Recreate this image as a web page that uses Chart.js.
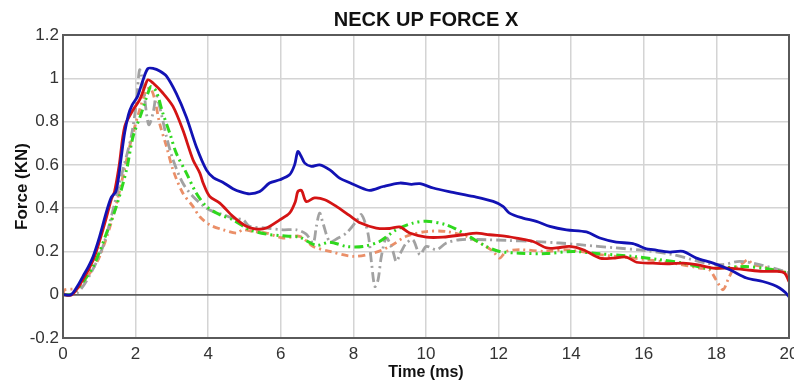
<!DOCTYPE html>
<html>
<head>
<meta charset="utf-8">
<title>Neck Up Force X</title>
<script src="https://cdn.jsdelivr.net/npm/chart.js@4/dist/chart.umd.min.js"></script>
<style>
  html, body { margin: 0; padding: 0; background: #ffffff; }
  #wrap { width: 794px; height: 382px; position: relative; }
</style>
</head>
<body>
<div id="wrap"><canvas id="chart" width="794" height="382"></canvas></div>
<script>
// Time samples (ms) and force (kN) for each test curve
const blueTime = [0, 0.22, 0.4, 0.55, 0.7, 0.83, 1.01, 1.2, 1.33, 1.45, 1.52, 1.6, 1.7, 1.8, 1.9, 2.05, 2.2, 2.34, 2.5, 2.65, 2.85, 3.12, 3.4, 3.67, 3.95, 4.15, 4.4, 4.68, 4.9, 5.14, 5.42, 5.69, 5.97, 6.24, 6.38, 6.47, 6.56, 6.66, 6.84, 7.07, 7.35, 7.62, 7.9, 8.13, 8.45, 8.82, 9.28, 9.6, 9.83, 10.2, 10.74, 11.3, 11.85, 12.12, 12.3, 12.67, 13.04, 13.41, 13.87, 14.42, 14.79, 15.24, 15.7, 16.07, 16.25, 16.71, 17.08, 17.45, 17.91, 18.37, 18.83, 19.28, 19.56, 19.74, 19.9, 20];
const blueForce = [0, 0, 0.04, 0.085, 0.13, 0.177, 0.27, 0.385, 0.45, 0.475, 0.53, 0.63, 0.75, 0.83, 0.875, 0.915, 0.99, 1.045, 1.045, 1.035, 1.01, 0.93, 0.82, 0.685, 0.577, 0.54, 0.52, 0.49, 0.475, 0.466, 0.477, 0.516, 0.531, 0.554, 0.6, 0.662, 0.64, 0.608, 0.593, 0.6, 0.577, 0.539, 0.517, 0.5, 0.482, 0.5, 0.516, 0.51, 0.513, 0.493, 0.473, 0.454, 0.431, 0.408, 0.377, 0.354, 0.339, 0.316, 0.3, 0.29, 0.262, 0.243, 0.236, 0.212, 0.208, 0.197, 0.2, 0.169, 0.146, 0.115, 0.077, 0.061, 0.046, 0.031, 0.01, -0.01];

const redTime = [0, 0.25, 0.55, 0.83, 1.01, 1.2, 1.33, 1.42, 1.55, 1.7, 1.93, 2.11, 2.25, 2.34, 2.48, 2.75, 3.03, 3.3, 3.58, 3.77, 3.86, 4.04, 4.32, 4.68, 5.05, 5.33, 5.6, 5.97, 6.24, 6.4, 6.47, 6.57, 6.7, 6.93, 7.21, 7.53, 7.9, 8.2, 8.63, 9.0, 9.28, 9.55, 10.01, 10.47, 11.02, 11.39, 11.75, 12.21, 12.49, 12.95, 13.32, 13.59, 13.96, 14.33, 14.79, 15.15, 15.52, 15.8, 16.25, 16.71, 17.08, 17.45, 17.91, 18.37, 18.83, 19.28, 19.65, 19.88, 20];
const redForce = [0, 0, 0.07, 0.16, 0.25, 0.36, 0.44, 0.477, 0.6, 0.777, 0.854, 0.9, 0.96, 0.993, 0.978, 0.932, 0.87, 0.762, 0.624, 0.562, 0.516, 0.454, 0.423, 0.362, 0.316, 0.303, 0.308, 0.346, 0.377, 0.43, 0.477, 0.482, 0.431, 0.447, 0.439, 0.408, 0.365, 0.331, 0.308, 0.306, 0.313, 0.285, 0.266, 0.266, 0.277, 0.285, 0.277, 0.27, 0.262, 0.246, 0.216, 0.216, 0.223, 0.208, 0.169, 0.169, 0.174, 0.15, 0.146, 0.143, 0.146, 0.139, 0.123, 0.123, 0.115, 0.108, 0.108, 0.1, 0.06];

const greenTime = [0, 0.2, 0.37, 0.6, 0.83, 1.01, 1.2, 1.47, 1.75, 1.93, 2.16, 2.34, 2.43, 2.57, 2.75, 2.94, 3.12, 3.4, 3.67, 3.95, 4.32, 4.68, 5.14, 5.6, 6.06, 6.52, 6.98, 7.35, 7.81, 8.26, 8.72, 9.18, 9.64, 10.01, 10.56, 11.11, 11.66, 12.03, 12.58, 13.32, 14.05, 14.79, 15.7, 16.44, 17.08, 17.72, 18.2, 18.8, 19.4, 20];
const greenForce = [0, 0, 0.023, 0.07, 0.13, 0.2, 0.285, 0.408, 0.577, 0.731, 0.839, 0.932, 0.962, 0.939, 0.839, 0.747, 0.654, 0.562, 0.47, 0.408, 0.37, 0.346, 0.3, 0.28, 0.272, 0.265, 0.228, 0.243, 0.223, 0.223, 0.246, 0.3, 0.331, 0.339, 0.323, 0.277, 0.223, 0.2, 0.192, 0.19, 0.2, 0.189, 0.177, 0.162, 0.146, 0.123, 0.125, 0.13, 0.12, 0.1];

const grayTime = [0, 0.4, 0.8, 1.1, 1.38, 1.65, 1.88, 2.02, 2.11, 2.2, 2.31, 2.37, 2.48, 2.57, 2.66, 2.85, 3.03, 3.3, 3.58, 3.95, 4.13, 4.41, 4.68, 4.96, 5.14, 5.6, 6.06, 6.43, 6.7, 6.89, 6.98, 7.07, 7.16, 7.35, 7.58, 7.81, 8.08, 8.22, 8.4, 8.5, 8.59, 8.68, 8.77, 8.91, 9.09, 9.18, 9.32, 9.46, 9.64, 9.83, 10.01, 10.29, 10.56, 10.93, 11.66, 12.21, 12.95, 13.68, 14.23, 15.24, 15.98, 16.8, 17.72, 18.18, 18.64, 19.19, 19.74, 20];
const grayForce = [0, 0.01, 0.11, 0.223, 0.393, 0.577, 0.731, 0.885, 1.039, 0.978, 0.824, 0.785, 0.839, 0.916, 0.87, 0.731, 0.624, 0.516, 0.454, 0.4, 0.385, 0.37, 0.354, 0.346, 0.316, 0.308, 0.3, 0.3, 0.28, 0.239, 0.316, 0.377, 0.331, 0.246, 0.262, 0.285, 0.339, 0.37, 0.285, 0.146, 0.038, 0.069, 0.177, 0.262, 0.2, 0.154, 0.2, 0.239, 0.254, 0.185, 0.223, 0.208, 0.239, 0.254, 0.254, 0.251, 0.246, 0.239, 0.231, 0.216, 0.205, 0.185, 0.146, 0.139, 0.154, 0.139, 0.115, 0.1];

const orangeTime = [0, 0.05, 0.4, 0.7, 1.01, 1.38, 1.65, 1.88, 2.11, 2.3, 2.41, 2.53, 2.66, 2.85, 3.03, 3.3, 3.58, 3.77, 4.04, 4.41, 4.78, 4.96, 5.23, 5.6, 6.06, 6.52, 6.89, 7.35, 7.99, 8.54, 9.0, 9.46, 10.01, 10.56, 11.11, 11.57, 11.85, 12.03, 12.21, 12.58, 13.32, 13.87, 14.79, 15.7, 16.8, 17.54, 17.81, 17.99, 18.18, 18.32, 18.46, 18.73, 18.87, 19.01, 19.28, 19.56, 19.83, 20];
const orangeForce = [0, 0.023, 0.03, 0.09, 0.177, 0.362, 0.546, 0.716, 0.854, 0.947, 0.955, 0.9, 0.793, 0.685, 0.577, 0.47, 0.408, 0.36, 0.323, 0.3, 0.285, 0.3, 0.292, 0.285, 0.262, 0.27, 0.223, 0.2, 0.177, 0.192, 0.223, 0.27, 0.292, 0.292, 0.27, 0.231, 0.2, 0.169, 0.2, 0.208, 0.2, 0.208, 0.185, 0.169, 0.146, 0.123, 0.115, 0.069, 0.023, 0.069, 0.115, 0.146, 0.162, 0.139, 0.131, 0.115, 0.108, 0.092];

// Axis tick values
const timeTicks = [0, 2, 4, 6, 8, 10, 12, 14, 16, 18, 20];
const forceTicks = [-0.2, 0, 0.2, 0.4, 0.6, 0.8, 1, 1.2];

const FONT = "'Liberation Sans', Arial, Helvetica, sans-serif";

function pairs(t, v) {
  return t.map((x, i) => ({ x: x, y: v[i] }));
}

// Outline the plot area on all four sides
const frame = {
  id: 'frame',
  afterDraw(chart) {
    const a = chart.chartArea;
    const c = chart.ctx;
    c.save();
    c.strokeStyle = '#5a5a5a';
    c.lineWidth = 2;
    c.strokeRect(a.left, a.top, a.right - a.left, a.bottom - a.top);
    c.restore();
  }
};

function lineSet(label, t, v, color, width, dash) {
  return {
    label: label,
    data: pairs(t, v),
    borderColor: color,
    backgroundColor: color,
    borderWidth: width,
    borderDash: dash || [],
    pointRadius: 0,
    tension: 0.3,
    fill: false
  };
}

new Chart(document.getElementById('chart'), {
  type: 'line',
  data: {
    datasets: [
      lineSet('Test 1', blueTime, blueForce, '#1212b4', 2.8),
      lineSet('Test 2', redTime, redForce, '#d41414', 2.8),
      lineSet('Test 3', greenTime, greenForce, '#2fd81e', 3, [9, 4, 2, 4, 2, 4]),
      lineSet('Test 4', grayTime, grayForce, '#a2a2a2', 2.8, [10, 4, 2, 4]),
      lineSet('Test 5', orangeTime, orangeForce, '#ea8f68', 2.8, [7, 4, 2, 4])
    ]
  },
  plugins: [frame],
  options: {
    responsive: false,
    animation: false,
    layout: { padding: { top: 0, right: 5, bottom: 0, left: 0 } },
    plugins: {
      legend: { display: false },
      tooltip: { enabled: false },
      title: {
        display: true,
        text: 'NECK UP FORCE X',
        fullSize: false,
        color: '#111111',
        font: { family: FONT, size: 20, weight: 'bold' },
        padding: { top: 8, bottom: 3 }
      }
    },
    scales: {
      x: {
        type: 'linear',
        min: 0,
        max: 20,
        afterBuildTicks(scale) {
          scale.ticks = timeTicks.map(v => ({ value: v }));
        },
        afterFit(scale) {
          scale.height = 44;
          scale.paddingLeft = 0;
          scale.paddingRight = 0;
        },
        grid: { color: '#d4d4d4', lineWidth: 1.5, drawTicks: false },
        border: { display: false },
        ticks: {
          color: '#333333',
          font: { family: FONT, size: 17 },
          padding: 6,
          maxRotation: 0,
          autoSkip: false
        },
        title: {
          display: true,
          text: 'Time (ms)',
          color: '#111111',
          font: { family: FONT, size: 16, weight: 'bold' },
          padding: 0
        }
      },
      y: {
        type: 'linear',
        min: -0.2,
        max: 1.2,
        afterBuildTicks(scale) {
          scale.ticks = forceTicks.map(v => ({ value: v }));
        },
        afterFit(scale) {
          scale.width = 63;
        },
        grid: {
          drawTicks: false,
          color: ctx => (ctx.tick && Math.abs(ctx.tick.value) < 1e-9 ? '#5e5e5e' : '#d4d4d4'),
          lineWidth: ctx => (ctx.tick && Math.abs(ctx.tick.value) < 1e-9 ? 1.8 : 1.5)
        },
        border: { display: false },
        ticks: {
          color: '#333333',
          font: { family: FONT, size: 17 },
          padding: 4,
          callback: v => String(Math.round(v * 10) / 10)
        },
        title: {
          display: true,
          text: 'Force (KN)',
          color: '#111111',
          font: { family: FONT, size: 17, weight: 'bold' },
          padding: { top: 12, bottom: 0 }
        }
      }
    }
  }
});
</script>
</body>
</html>
